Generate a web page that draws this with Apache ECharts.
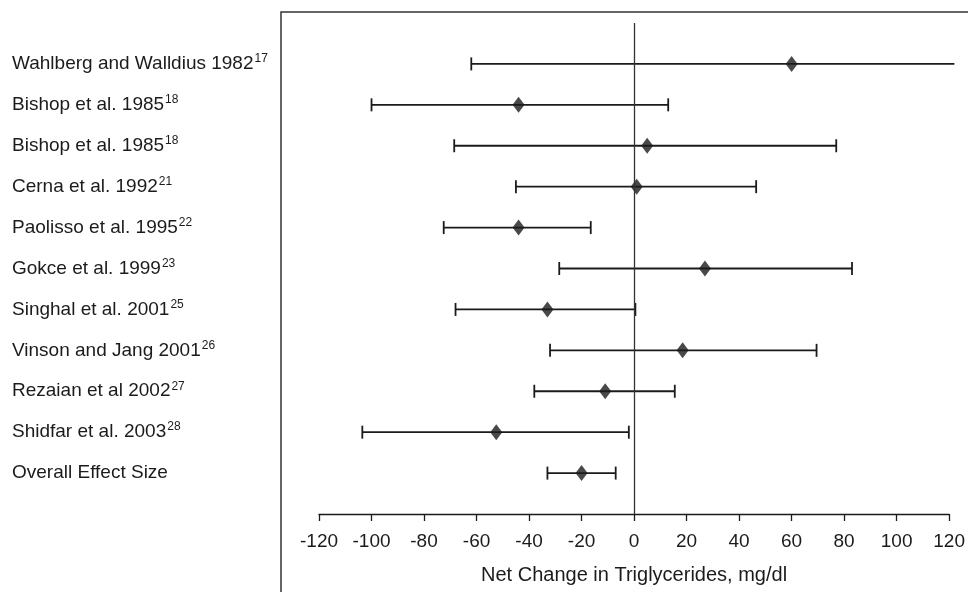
<!DOCTYPE html>
<html>
<head>
<meta charset="utf-8">
<script src="https://cdn.jsdelivr.net/npm/echarts@6/dist/echarts.min.js"></script>
<style>
  html, body { margin: 0; padding: 0; background: #fff; }
  #chart { width: 968px; height: 592px; }
</style>
</head>
<body>
<div id="chart"></div>
<script>
// study names, top to bottom
const studies = [
  'Wahlberg and Walldius 1982',
  'Bishop et al. 1985',
  'Bishop et al. 1985',
  'Cerna et al. 1992',
  'Paolisso et al. 1995',
  'Gokce et al. 1999',
  'Singhal et al. 2001',
  'Vinson and Jang 2001',
  'Rezaian et al 2002',
  'Shidfar et al. 2003',
  'Overall Effect Size'
]
// reference numbers (superscripts)
const refs = ['17', '18', '18', '21', '22', '23', '25', '26', '27', '28', '']
// net change in triglycerides, mg/dl
const means  = [60, -44, 5, 1, -44, 27, -33, 18.5, -11, -52.5, -20]
const lowers = [-62, -100, -68.5, -45, -72.5, -28.5, -68, -32, -38, -103.5, -33]
const uppers = [122, 13, 77, 46.5, -16.5, 83, 0.5, 69.5, 15.5, -2, -7]
const xTicks = [-120, -100, -80, -60, -40, -20, 0, 20, 40, 60, 80, 100, 120]

const xMin = xTicks[0]
const xMax = xTicks[xTicks.length - 1]
const ink = '#1b1b1b'
const font = 'Liberation Sans'

// blank category on each end so the rows sit off the axis
const cats = [''].concat(studies.map((s, i) => s + '|' + refs[i]), [''])

const chart = echarts.init(document.getElementById('chart'), null, { renderer: 'canvas' })

const option = {
  animation: false,
  grid: { left: 319, right: 18, top: 23, bottom: 78 },
  xAxis: {
    type: 'value',
    min: xMin,
    max: xMax,
    interval: 20,
    name: 'Net Change in Triglycerides, mg/dl',
    nameLocation: 'middle',
    nameGap: 51,
    nameTextStyle: { color: ink, fontSize: 20, fontFamily: font },
    axisLine: { show: true, onZero: false, lineStyle: { color: ink, width: 1.3 } },
    axisTick: { show: true, length: 7, lineStyle: { color: ink, width: 1.3 } },
    axisLabel: { color: ink, fontSize: 19, margin: 18, fontFamily: font },
    splitLine: { show: false }
  },
  yAxis: {
    type: 'category',
    inverse: true,
    boundaryGap: false,
    data: cats,
    axisLine: { show: false },
    axisTick: { show: false },
    splitLine: { show: false },
    axisLabel: {
      align: 'left',
      margin: 307,
      fontFamily: font,
      formatter: (v) => {
        if (!v) return ''
        const [name, ref] = v.split('|')
        return ref ? `{n|${name}}{s|${ref}}` : `{n|${name}}`
      },
      rich: {
        n: { fontSize: 19, color: ink, fontFamily: font, lineHeight: 22 },
        s: { fontSize: 12, color: ink, fontFamily: font, verticalAlign: 'top', lineHeight: 22, padding: [0, 0, 10, 1] }
      }
    }
  },
  graphic: [
    {
      type: 'rect',
      shape: { x: 281, y: 12, width: 800, height: 700 },
      style: { fill: 'none', stroke: '#333', lineWidth: 1.5 },
      silent: true
    }
  ],
  series: [
    {
      type: 'custom',
      data: studies.map((s, i) => [lowers[i], uppers[i], i + 1]),
      renderItem: (params, api) => {
        const lo = api.value(0)
        const hi = api.value(1)
        const row = api.value(2)
        const a = api.coord([lo, row])
        const b = api.coord([hi, row])
        const h = 6.5
        const style = { stroke: ink, lineWidth: 1.8 }
        const children = [
          { type: 'line', shape: { x1: a[0], y1: a[1], x2: b[0], y2: b[1] }, style }
        ]
        // no end cap where the interval runs past the axis
        if (lo >= xMin) children.push({ type: 'line', shape: { x1: a[0], y1: a[1] - h, x2: a[0], y2: a[1] + h }, style })
        if (hi <= xMax) children.push({ type: 'line', shape: { x1: b[0], y1: b[1] - h, x2: b[0], y2: b[1] + h }, style })
        return { type: 'group', children }
      },
      clip: false,
      z: 2
    },
    {
      type: 'scatter',
      data: studies.map((s, i) => [means[i], i + 1]),
      symbol: 'diamond',
      symbolSize: [12, 16],
      itemStyle: { color: ink },
      z: 3,
      markLine: {
        silent: true,
        symbol: 'none',
        label: { show: false },
        lineStyle: { color: '#333', width: 1.3, type: 'solid' },
        data: [{ xAxis: 0 }]
      }
    }
  ]
}

chart.setOption(option)
</script>
</body>
</html>
